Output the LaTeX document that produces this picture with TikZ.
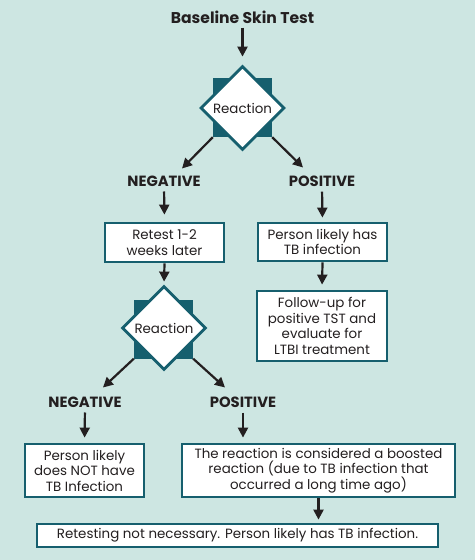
\documentclass[tikz,border=0pt]{standalone}
\usepackage{fontspec}
\setmainfont{Poppins}
\usetikzlibrary{shapes.geometric,arrows.meta}
\definecolor{bgc}{HTML}{CDE6E2}
\definecolor{tealc}{HTML}{165F6E}
\definecolor{txt}{HTML}{231F20}
\begin{document}
\begin{tikzpicture}[x=1pt,y=-1pt,
 box/.style={draw=tealc, line width=2.8pt, fill=white, align=center, font=\fontsize{13.4}{15.5}\selectfont, text=txt, inner sep=0pt},
 lab/.style={font=\bfseries\fontsize{14.8}{16}\selectfont, text=txt, inner sep=0pt},
 arr/.style={draw=txt, line width=2.2pt, -{Triangle[length=10pt,width=10pt]}},
 sqr/.style={fill=tealc, minimum size=59pt, inner sep=0pt},
 dia/.style={diamond, draw=tealc, line width=2.8pt, fill=white, minimum width=84pt, minimum height=84pt, inner sep=0pt, font=\fontsize{13.4}{15.5}\selectfont, text=txt}]
\fill[bgc] (0,0) rectangle (475,560);
\useasboundingbox (0,0) rectangle (475,560);

% top
\node[lab, font=\bfseries\fontsize{15.6}{17}\selectfont] (title) at (242.5,17) {Baseline Skin Test};
\node[sqr] (sq1) at (242.5,107.5) {};
\node[dia] (d1) at (242.5,108) {Reaction};
\node[lab] (neg1) at (164,181) {NEGATIVE};
\node[lab] (pos1) at (322,181) {POSITIVE};

% left column
\node[box, minimum width=119pt, minimum height=39pt] (retest) at (164.5,242.5) {Retest 1-2\\weeks later};
\node[sqr] (sq2) at (163.5,329) {};
\node[dia] (d2) at (164,328) {Reaction};
\node[lab] (neg2) at (85,402) {NEGATIVE};
\node[lab] (pos2) at (243,402) {POSITIVE};
\node[box, minimum width=119pt, minimum height=53pt] (nothave) at (84.5,470.5) {Person likely\\does NOT have\\TB Infection};
\node[box, minimum width=273pt, minimum height=53pt] (boost) at (318.5,470.5) {The reaction is considered a boosted\\reaction (due to TB infection that\\occurred a long time ago)};
\node[box, minimum width=401pt, minimum height=23pt] (final) at (237.5,535.5) {Retesting not necessary. Person likely has TB infection.};

% right column
\node[box, minimum width=129pt, minimum height=38pt] (hastb) at (322.5,242) {Person likely has\\TB infection};
\node[box, minimum width=130pt, minimum height=70pt] (follow) at (322,326) {Follow-up for\\positive TST and\\evaluate for\\LTBI treatment};

% connectors
\draw[arr, shorten <=4pt, shorten >=8pt] (title.south -| d1.north) -- (d1.north);
\draw[arr] (sq1.south west) -- ([xshift=18pt,yshift=7pt]neg1.north);
\draw[arr] (sq1.south east) -- ([xshift=-19pt,yshift=8pt]pos1.north);
\draw[arr, shorten <=5pt, shorten >=7pt] (neg1.south) -- (retest.north);
\draw[arr, shorten <=5pt, shorten >=4pt] (pos1.south) -- (hastb.north);
\draw[arr, shorten >=5pt] (hastb.south) -- (follow.north);
\draw[arr, shorten >=3pt] (retest.south) -- (d2.north);
\draw[arr] (sq2.south west) -- ([xshift=18pt,yshift=9pt]neg2.north);
\draw[arr] (sq2.south east) -- ([xshift=-18pt,yshift=9pt]pos2.north);
\draw[arr, shorten <=5pt, shorten >=5pt] (neg2.south) -- (nothave.north);
\draw[arr, shorten <=5pt, shorten >=5pt] (pos2.south) -- (pos2.south |- boost.north);
\draw[arr, shorten >=3pt] (boost.south) -- (final.north -| boost.south);
\end{tikzpicture}
\end{document}
